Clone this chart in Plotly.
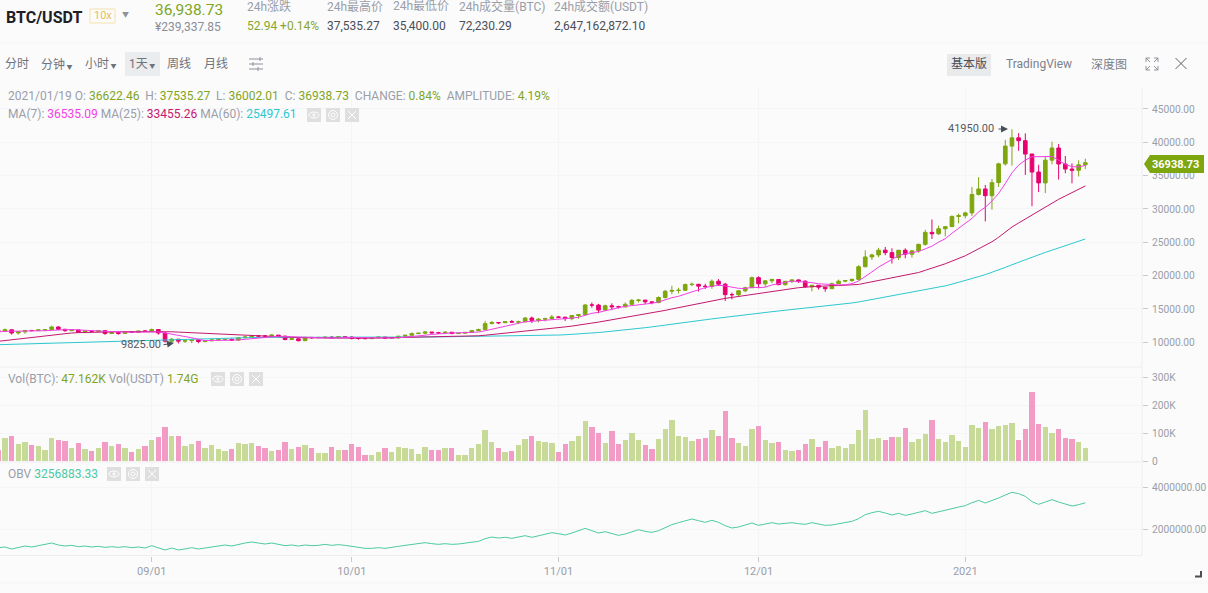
import pandas as pd
import plotly.graph_objects as go

WIDTH = 1208
HEIGHT = 593

UP = "#7ea60e"
DOWN = "#e8016f"
UP_VOL = "#c8da98"
DOWN_VOL = "#f29cc5"
GRAY = "#9a9ea8"
SANS = "Roboto, 'Noto Sans CJK SC', sans-serif"

opens = [
    11750, 11680, 11880, 11400, 11570, 11780, 11760, 11860, 11910, 12300, 11950, 11750, 11860, 11520, 11680, 11650, 11750, 11320, 11460, 11330, 11530, 11470, 11710,
    11650, 11920, 11390, 10170, 10470, 10170, 10250, 10370, 10120, 10220, 10340, 10390, 10440, 10330, 10680, 10790, 10950, 10940, 10930, 11080, 10920, 10420, 10530, 10240, 10740, 10690, 10730, 10770, 10690, 10840,
    10780, 10620, 10570, 10550, 10670, 10790, 10600, 10670, 10920, 11050, 11300, 11370, 11540, 11420, 11410, 11510, 11320, 11360, 11480, 11750, 11910, 12800, 12970, 12930, 13120, 13030, 13070, 13640, 13280, 13460, 13560,
    13800, 13760, 13550, 14020, 14150, 15590, 15580, 14830, 15480, 15330, 15300, 15700, 16290, 16330, 16070, 15960, 16720, 17660, 17780, 17800, 18660, 18700, 18420, 18370, 19160, 18720, 17150, 17140, 17720, 18180,
    19700, 18770, 19220, 19420, 18650, 19150, 19360, 19170, 18320, 18550, 18260, 18040, 18800, 19170, 19270, 19440, 21340, 22800, 23110, 23820, 23450, 22720, 23810, 23220, 23720, 24690, 26490, 26280, 27030, 27350, 28880,
    28990, 29410, 32180, 33000, 31990, 33950, 36770, 39430, 40670, 40240, 38240, 35540, 33910, 37320, 39140, 36740, 35990, 35800, 36622.46,
]
closes = [
    11680, 11880, 11400, 11570, 11780, 11760, 11860, 11910, 12300, 11950, 11750, 11860, 11520, 11680, 11650, 11750, 11320, 11460, 11330, 11530, 11470, 11710, 11650,
    11920, 11390, 10170, 10470, 10170, 10250, 10370, 10120, 10220, 10340, 10390, 10440, 10330, 10680, 10790, 10950, 10940, 10930, 11080, 10920, 10420, 10530, 10240, 10740, 10690, 10730, 10770, 10690, 10840, 10780,
    10620, 10570, 10550, 10670, 10790, 10600, 10670, 10920, 11050, 11300, 11370, 11540, 11420, 11410, 11510, 11320, 11360, 11480, 11750, 11910, 12800, 12970, 12930, 13120, 13030, 13070, 13640, 13280, 13460, 13560, 13800,
    13760, 13550, 14020, 14150, 15590, 15580, 14830, 15480, 15330, 15300, 15700, 16290, 16330, 16070, 15960, 16720, 17660, 17780, 17800, 18660, 18700, 18420, 18370, 19160, 18720, 17150, 17140, 17720, 18180, 19700,
    18770, 19220, 19420, 18650, 19150, 19360, 19170, 18320, 18550, 18260, 18040, 18800, 19170, 19270, 19440, 21340, 22800, 23110, 23820, 23450, 22720, 23810, 23220, 23720, 24690, 26490, 26280, 27030, 27350, 28880, 28990,
    29410, 32180, 33000, 31990, 33950, 36770, 39430, 40670, 40240, 38240, 35540, 33910, 37320, 39140, 36740, 35990, 35800, 36620, 36938.73,
]
highs = [
    11800, 12060, 11940, 11620, 11790, 11850, 11960, 11930, 12480, 12400, 12020, 11880, 11880, 11690, 11720, 11830, 11770, 11530, 11600, 11580, 11600, 11720, 11790,
    12070, 11950, 11460, 10640, 10490, 10330, 10410, 10440, 10350, 10500, 10410, 10480, 10580, 10760, 10940, 11100, 11040, 11040, 11180, 11050, 10990, 10570, 10540, 10790, 10760, 10780, 10800, 10950, 10860, 10850,
    10930, 10660, 10600, 10690, 10800, 10800, 10680, 10950, 11100, 11490, 11400, 11720, 11550, 11550, 11620, 11540, 11400, 11490, 11800, 12040, 13220, 13200, 13030, 13170, 13350, 13240, 13790, 13860, 13640, 13680, 14100,
    13900, 13830, 14070, 14260, 15750, 15970, 15770, 15650, 15850, 15480, 15970, 16500, 16480, 16350, 16180, 16880, 17860, 18480, 18180, 18800, 18970, 18760, 18770, 19420, 19480, 18920, 17460, 17850, 18340, 19860,
    19900, 19310, 19560, 19500, 19180, 19420, 19420, 19300, 18620, 18560, 18280, 18950, 19410, 19350, 19570, 21560, 23800, 23290, 24170, 24300, 24100, 23840, 24100, 23780, 24790, 26870, 28420, 27500, 27410, 29020, 29300,
    29600, 33300, 34780, 33600, 34500, 36940, 40370, 41950, 41380, 41350, 38260, 36630, 37850, 40100, 39750, 37950, 36850, 37300, 37535.27,
]
lows = [
    11570, 11530, 11150, 11160, 11280, 11630, 11680, 11690, 11780, 11820, 11560, 11670, 11480, 11370, 11520, 11590, 11120, 11260, 11130, 11280, 11420, 11460, 11590,
    11630, 11140, 9960, 9875, 9825, 9900, 9875, 9850, 10000, 10200, 10200, 10260, 10200, 10210, 10630, 10670, 10740, 10810, 10890, 10760, 10300, 10350, 10140, 10190, 10530, 10650, 10560, 10630, 10640, 10650,
    10440, 10380, 10520, 10530, 10630, 10520, 10560, 10530, 10830, 11040, 11280, 11180, 11300, 11280, 11260, 11200, 11280, 11330, 11400, 11680, 11900, 12720, 12730, 12900, 12890, 12800, 13060, 12900, 12990, 13130, 13420,
    13620, 13200, 13300, 13530, 14090, 15190, 14350, 14720, 14830, 15080, 15290, 15540, 15970, 15710, 15700, 15860, 16550, 17210, 17340, 17760, 18420, 17610, 18000, 18020, 18480, 16200, 16440, 16880, 17520, 18170,
    18100, 18330, 18870, 18570, 18500, 18860, 18900, 18200, 17650, 17910, 17570, 18020, 18710, 19000, 19050, 19280, 21230, 22350, 22750, 23060, 21810, 22350, 22600, 22700, 23430, 24500, 25500, 26100, 25880, 27320, 27850,
    28600, 28950, 32000, 28130, 29900, 33300, 36500, 36500, 38720, 35110, 30420, 32530, 32380, 36700, 34410, 35360, 33850, 34880, 36002.01,
]
# thousands of BTC
volumes = [
    40, 83, 90, 62, 68, 58, 55, 40, 83, 75, 73, 45, 63, 43, 36, 45, 68, 52, 62, 45, 32, 42, 55,
    76, 86, 120, 90, 88, 55, 62, 73, 48, 57, 43, 35, 43, 65, 61, 64, 55, 48, 37, 38, 69, 44, 51, 57, 48, 29, 30, 49, 40, 38,
    60, 50, 23, 22, 33, 48, 32, 51, 48, 42, 26, 50, 39, 39, 46, 46, 20, 20, 45, 60, 112, 68, 48, 33, 36, 58, 78, 91, 71, 69, 64,
    33, 62, 71, 90, 142, 120, 99, 64, 106, 61, 76, 99, 74, 57, 42, 79, 113, 146, 89, 86, 73, 80, 81, 111, 90, 177, 82, 63, 54, 113,
    125, 74, 64, 69, 40, 36, 39, 60, 77, 50, 70, 46, 54, 45, 60, 112, 182, 77, 83, 75, 86, 85, 117, 67, 77, 96, 145, 77, 68, 93, 73,
    51, 127, 118, 138, 113, 124, 130, 137, 74, 115, 245, 131, 121, 100, 115, 83, 77, 68, 47,
]
ma7 = [
    11570, 11650, 11680, 11670, 11670, 11680, 11690, 11737, 11797, 11876, 11901, 11913, 11879, 11853, 11816, 11737, 11647, 11606, 11530, 11531, 11501, 11510, 11496,
    11581, 11571, 11406, 11254, 11069, 10860, 10677, 10420, 10253, 10277, 10266, 10304, 10316, 10360, 10456, 10560, 10646, 10723, 10814, 10899, 10861, 10824, 10723, 10694, 10660, 10610, 10589, 10627, 10671, 10749,
    10731, 10714, 10689, 10674, 10689, 10654, 10639, 10681, 10750, 10857, 10957, 11064, 11181, 11287, 11371, 11410, 11419, 11434, 11464, 11534, 11733, 11941, 12171, 12423, 12644, 12833, 13080, 13149, 13219, 13309, 13406,
    13510, 13579, 13633, 13757, 14061, 14350, 14497, 14743, 14997, 15180, 15401, 15501, 15609, 15786, 15854, 16053, 16390, 16687, 16903, 17236, 17611, 17963, 18199, 18413, 18547, 18454, 18237, 18097, 18063, 18253,
    18197, 18269, 18593, 18809, 19013, 19181, 19106, 19041, 18946, 18780, 18693, 18643, 18616, 18630, 18790, 19189, 19837, 20561, 21279, 21890, 22383, 23007, 23276, 23407, 23633, 24014, 24419, 25034, 25540, 26349, 27101,
    27776, 28589, 29549, 30257, 31200, 32327, 33819, 35427, 36579, 37327, 37834, 37829, 37907, 37866, 37304, 36697, 36349, 36300, 36535.09,
]
ma25 = [
    10150, 10270, 10390, 10510, 10640, 10760, 10880, 11000, 11110, 11230, 11320, 11400, 11450, 11490, 11520, 11540, 11550, 11570, 11580, 11600, 11610, 11620, 11640,
    11650, 11660, 11620, 11580, 11530, 11480, 11430, 11380, 11330, 11280, 11220, 11170, 11110, 11060, 11010, 10960, 10920, 10880, 10840, 10800, 10770, 10740, 10710, 10680, 10660, 10640, 10630, 10620, 10610, 10600,
    10580, 10590, 10610, 10630, 10650, 10660, 10670, 10690, 10720, 10750, 10770, 10790, 10810, 10830, 10850, 10870, 10880, 10900, 10930, 10980, 11060, 11160, 11240, 11340, 11430, 11520, 11620, 11730, 11840, 11960, 12080,
    12200, 12310, 12430, 12550, 12720, 12880, 13030, 13200, 13360, 13520, 13690, 13880, 14060, 14230, 14390, 14580, 14790, 15000, 15200, 15420, 15640, 15850, 16050, 16260, 16450, 16590, 16730, 16880, 17040, 17250,
    17380, 17540, 17690, 17810, 17950, 18080, 18190, 18280, 18360, 18420, 18470, 18500, 18510, 18530, 18590, 18680, 18880, 19070, 19290, 19470, 19650, 19880, 20040, 20230, 20470, 20800, 21100, 21420, 21780, 22180, 22560,
    22980, 23500, 24030, 24510, 25080, 25750, 26500, 27290, 27900, 28500, 29100, 29650, 30200, 30850, 31450, 31950, 32450, 32950, 33455.26,
]
ma60 = [
    9640, 9670, 9700, 9730, 9760, 9790, 9820, 9850, 9880, 9910, 9940, 9970, 10000, 10030, 10060, 10090, 10120, 10150, 10180, 10220, 10260, 10300, 10340,
    10370, 10400, 10420, 10440, 10460, 10480, 10500, 10520, 10540, 10560, 10580, 10610, 10630, 10660, 10690, 10710, 10730, 10740, 10750, 10760, 10760, 10770, 10770, 10780, 10780, 10790, 10790, 10800, 10800, 10800,
    10790, 10790, 10790, 10780, 10780, 10770, 10770, 10760, 10760, 10770, 10780, 10790, 10800, 10810, 10820, 10830, 10840, 10850, 10860, 10880, 10900, 10920, 10940, 10960, 10980, 11000, 11020, 11040, 11050, 11060, 11070,
    11090, 11130, 11180, 11240, 11310, 11390, 11470, 11560, 11650, 11750, 11850, 11960, 12070, 12190, 12310, 12430, 12560, 12690, 12830, 12960, 13100, 13240, 13380, 13510, 13640, 13770, 13880, 13990, 14090, 14220,
    14350, 14470, 14590, 14700, 14810, 14920, 15030, 15130, 15230, 15320, 15410, 15510, 15600, 15700, 15900, 16050, 16230, 16410, 16590, 16770, 16940, 17120, 17290, 17460, 17640, 17840, 18040, 18260, 18470, 18720, 18980,
    19240, 19540, 19850, 20150, 20480, 20840, 21230, 21630, 22030, 22420, 22790, 23120, 23480, 23820, 24150, 24480, 24800, 25150, 25497.61,
]
# thousands
obv = [
    1145, 1176, 1082, 1160, 1223, 1176, 1239, 1286, 1364, 1270, 1223, 1254, 1192, 1223, 1176, 1207, 1160, 1192, 1160, 1192, 1145, 1176, 1129,
    1239, 1145, 1035, 1129, 1035, 1082, 1145, 1082, 1129, 1192, 1239, 1270, 1223, 1301, 1364, 1411, 1364, 1317, 1364, 1286, 1239, 1270, 1223, 1270, 1239, 1254, 1301, 1254, 1286, 1254,
    1207, 1145, 1113, 1113, 1145, 1113, 1145, 1207, 1254, 1301, 1333, 1380, 1333, 1301, 1333, 1301, 1317, 1348, 1380, 1442, 1568, 1646, 1599, 1631, 1584, 1646, 1709, 1631, 1693, 1756, 1850,
    1803, 1741, 1834, 1944, 2054, 1944, 1834, 1897, 1803, 1725, 1787, 1897, 1991, 1913, 1866, 1944, 2086, 2227, 2321, 2415, 2493, 2415, 2336, 2431, 2336, 2180, 2070, 2117, 2195, 2305,
    2195, 2258, 2321, 2258, 2290, 2321, 2274, 2243, 2321, 2274, 2196, 2212, 2274, 2321, 2384, 2510, 2698, 2792, 2855, 2776, 2682, 2761, 2666, 2729, 2808, 2886, 2761, 2823, 2886, 2980, 3059,
    3121, 3262, 3372, 3247, 3357, 3482, 3623, 3749, 3686, 3561, 3310, 3184, 3294, 3404, 3294, 3184, 3106, 3169, 3256.88,
]

month_ticks = ["2020-09-01", "2020-10-01", "2020-11-01", "2020-12-01", "2021-01-01"]
month_labels = ["09/01", "10/01", "11/01", "12/01", "2021"]
price_ticks = [10000, 15000, 20000, 25000, 30000, 35000, 40000, 45000]
vol_ticks = [0, 100, 200, 300]
vol_labels = ["0", "100K", "200K", "300K"]
obv_ticks = [2000, 4000]
obv_labels = ["2000000.00", "4000000.00"]

# one (label, value, x, colour) row per column of the top bar
header_columns = [
    ("24h涨跌", "52.94 +0.14%", 247, "#87a62d"),
    ("24h最高价", "37,535.27", 327, "#4a4e57"),
    ("24h最低价", "35,400.00", 393, "#4a4e57"),
    ("24h成交量(BTC)", "72,230.29", 459, "#4a4e57"),
    ("24h成交额(USDT)", "2,647,162,872.10", 554, "#4a4e57"),
]
SMALL_ARROW = '<span style="font-size:6px"> ▼</span>'
toolbar_left = [
    ("分时", 5), ("分钟" + SMALL_ARROW, 41), ("小时" + SMALL_ARROW, 85),
    ("1天" + SMALL_ARROW, 129), ("周线", 167), ("月线", 204),
]
toolbar_right = [("基本版", 951), ("TradingView", 1006), ("深度图", 1091)]

dates = pd.date_range("2020-08-09", periods=len(closes))
for series in (opens, highs, lows, volumes, ma7, ma25, ma60, obv):
    assert len(series) == len(closes), len(series)


def _domain(top, bottom):
    return [1 - bottom / HEIGHT, 1 - top / HEIGHT]


def _px(x, y):
    return x / WIDTH, 1 - y / HEIGHT


def _label(text, x, y, size=12, color=GRAY, anchor="left", family=SANS):
    # annotations sit about a pixel right of the anchor, so pull left aligned ones back
    px, py = _px(x - 1 if anchor == "left" else x, y)
    return dict(
        text=text, x=px, y=py, xref="paper", yref="paper", xanchor=anchor, yanchor="middle",
        showarrow=False, borderpad=0, font=dict(size=size, color=color, family=family),
    )


def _rect(x0, y0, x1, y1, fill, line="rgba(0,0,0,0)", layer="below"):
    ax, ay = _px(x0, y0)
    bx, by = _px(x1, y1)
    return dict(type="rect", xref="paper", yref="paper", x0=ax, y0=ay, x1=bx, y1=by,
                fillcolor=fill, line=dict(color=line, width=1), layer=layer)


def _line(x0, y0, x1, y1, color, width=1, layer="above"):
    ax, ay = _px(x0, y0)
    bx, by = _px(x1, y1)
    return dict(type="line", xref="paper", yref="paper", x0=ax, y0=ay, x1=bx, y1=by,
                line=dict(color=color, width=width), layer=layer)


def _circle(cx, cy, rx, ry, color):
    ax, ay = _px(cx - rx, cy - ry)
    bx, by = _px(cx + rx, cy + ry)
    return dict(type="circle", xref="paper", yref="paper", x0=ax, y0=ay, x1=bx, y1=by,
                line=dict(color=color, width=1), fillcolor="rgba(0,0,0,0)", layer="above")


def _polygon(points, fill, line=None, width=1):
    coords = [_px(x, y) for x, y in points]
    path = "M " + " L ".join(f"{x:.5f},{y:.5f}" for x, y in coords)
    if fill:
        path += " Z"
    return dict(type="path", xref="paper", yref="paper", path=path, fillcolor=fill or "rgba(0,0,0,0)",
                line=dict(color=line or "rgba(0,0,0,0)", width=width), layer="above")


def _icon_group(x_first, top, step):
    # eye, target and close buttons next to each indicator legend
    shapes = []
    for i in range(3):
        x = x_first + i * step
        cx, cy = x + 7, top + 7
        shapes.append(_rect(x, top, x + 14, top + 14, "#dfdfe0", layer="above"))
        if i == 0:
            shapes.append(_circle(cx, cy, 5, 3, "white"))
            shapes.append(_circle(cx, cy, 1.2, 1.2, "white"))
        elif i == 1:
            shapes.append(_circle(cx, cy, 4.5, 4.5, "white"))
            shapes.append(_circle(cx, cy, 2, 2, "white"))
        else:
            shapes.append(_line(x + 3, top + 3, x + 11, top + 11, "white"))
            shapes.append(_line(x + 11, top + 3, x + 3, top + 11, "white"))
    return shapes


def _colored(parts, sep=" "):
    return sep.join(
        f'<span style="color:{GRAY}">{name}</span> <span style="color:{color}">{value}</span>'
        for name, value, color in parts
    )


def _traces():
    vol_colors = [UP_VOL if c >= o else DOWN_VOL for o, c in zip(opens, closes)]
    return [
        go.Candlestick(
            x=dates, open=opens, high=highs, low=lows, close=closes, whiskerwidth=0,
            increasing=dict(line=dict(color=UP, width=1), fillcolor=UP),
            decreasing=dict(line=dict(color=DOWN, width=1), fillcolor=DOWN),
            xaxis="x", yaxis="y", hoverinfo="skip",
        ),
        go.Scatter(x=dates, y=ma60, mode="lines", line=dict(color="#2cc8cf", width=1), xaxis="x", yaxis="y"),
        go.Scatter(x=dates, y=ma25, mode="lines", line=dict(color="#c4186f", width=1), xaxis="x", yaxis="y"),
        go.Scatter(x=dates, y=ma7, mode="lines", line=dict(color="#f43fe4", width=1), xaxis="x", yaxis="y"),
        go.Bar(x=dates, y=volumes, width=0.8 * 86400000, marker=dict(color=vol_colors, line=dict(width=0)),
               xaxis="x2", yaxis="y2"),
        go.Scatter(x=dates, y=obv, mode="lines", line=dict(color="#4ccaa2", width=1), xaxis="x3", yaxis="y3"),
    ]


def _annotations():
    green = "#82a51f"
    notes = [
        _label("<b>BTC/USDT</b>", 6, 17, size=16, color="#1e2026"),
        _label("10x", 102.5, 16, size=11, color="#e8bd52", anchor="center"),
        _label("▼", 125, 15, size=7, color="#8d9199", anchor="center"),
        _label("36,938.73", 155, 10, size=15.5, color="#7ea621"),
        _label("¥239,337.85", 155, 27, size=12, color="#8a8e97"),
    ]
    for title, value, x, color in header_columns:
        notes.append(_label(title, x, 6))
        notes.append(_label(value, x, 26, color=color))
    for text, x in toolbar_left:
        notes.append(_label(text, x, 64, color="#6f737c"))
    for text, x in toolbar_right:
        notes.append(_label(text, x, 64, color="#4a4e57" if text == "基本版" else "#7c808a"))

    notes.append(_label(
        "2021/01/19 " + _colored([
            ("O:", "36622.46", green), ("H:", "37535.27", green), ("L:", "36002.01", green),
            ("C:", "36938.73", green), ("CHANGE:", "0.84%", green), ("AMPLITUDE:", "4.19%", green),
        ], sep="  "), 8, 96,
    ))
    notes.append(_label(_colored([
        ("MA(7):", "36535.09", "#f43fe4"), ("MA(25):", "33455.26", "#c4186f"), ("MA(60):", "25497.61", "#2cc8cf"),
    ]), 8, 114))
    notes.append(_label(_colored([("Vol(BTC):", "47.162K", green), ("Vol(USDT)", "1.74G", green)]), 8, 379))
    notes.append(_label(_colored([("OBV", "3256883.33", "#4ccaa2")]), 8, 474))

    notes.append(_label("41950.00", 948, 129, size=11, color="#55585f"))
    notes.append(_label("9825.00", 121, 344, size=11, color="#55585f"))
    notes.append(_label("<b>36938.73</b>", 1152, 164, size=11, color="white"))

    for tail, head in [((997, 129), (1008, 129)), ((162, 345), (174, 343))]:
        hx, hy = _px(*head)
        notes.append(dict(
            x=hx, y=hy, xref="paper", yref="paper", ax=tail[0] - head[0], ay=tail[1] - head[1],
            axref="pixel", ayref="pixel", showarrow=True, arrowhead=2, arrowsize=1.4, arrowwidth=1,
            arrowcolor="#4a4e57", text="",
        ))
    return notes


def _shapes():
    edge = "#eeeef0"
    shapes = [
        _rect(0, 41, WIDTH, 44, "#f8f8f9"),
        _rect(0, 581, WIDTH, 584, "#f8f8f9"),
        _rect(125, 52, 160, 76, "#ebecee"),
        _rect(947, 54, 991, 76, "#e9eaec"),
        _rect(90, 9, 115, 23, "rgba(0,0,0,0)", line="#f5e1ad"),
        _line(0, 367, 1142, 367, edge),
        _line(0, 462, 1142, 462, edge),
        _line(0, 555.5, 1142, 555.5, edge),
        _line(1142, 88, 1142, 555.5, edge),
    ]
    # settings icon
    for y, mark in [(59, 260), (64, 253), (69, 258)]:
        shapes.append(_line(249, y, 263, y, "#8d9199"))
        shapes.append(_line(mark, y - 2, mark, y + 2, "#8d9199"))
    # expand icon
    for sx, sy in [(-1, -1), (1, -1), (-1, 1), (1, 1)]:
        cx, cy = 1152 + sx * 6, 64 + sy * 6
        shapes.append(_polygon([(cx - sx * 4, cy), (cx, cy), (cx, cy - sy * 4)], None, "#8d9199"))
        shapes.append(_line(cx - sx * 4, cy - sy * 4, cx, cy, "#8d9199"))
    shapes.append(_line(1175.5, 58, 1186.5, 69, "#5c606a"))
    shapes.append(_line(1186.5, 58, 1175.5, 69, "#5c606a"))
    # window resize corner
    shapes.append(_polygon([(1195, 576.5), (1201, 576.5), (1201, 571)], None, "#4a4e57", width=2))
    # last price tag
    shapes.append(_polygon([(1144, 164), (1150, 155), (1204, 155), (1204, 173), (1150, 173)], "#7ea60e"))
    shapes += _icon_group(307, 108, 19)
    shapes += _icon_group(211, 372, 19)
    shapes += _icon_group(107, 467, 19)
    return shapes


def _x_axis(anchor, show_labels):
    return dict(
        type="date", domain=[0, 1142 / WIDTH], range=["2020-08-09 06:00", "2021-01-27 12:00"], anchor=anchor,
        tickmode="array", tickvals=month_ticks, ticktext=month_labels, showticklabels=show_labels,
        ticks="outside" if show_labels else "", ticklen=5, tickcolor="#c8c9cd",
        gridcolor="#f5f5f7", gridwidth=1, zeroline=False, showline=False, rangeslider=dict(visible=False),
        tickfont=dict(size=11, color=GRAY, family=SANS),
    )


def _y_axis(anchor, top, bottom, value_range, tickvals, ticktext=None, tickformat=None):
    axis = dict(
        domain=_domain(top, bottom), range=value_range, anchor=anchor, side="right",
        tickmode="array", tickvals=tickvals, ticks="outside", ticklen=5, tickcolor="#c8c9cd",
        gridcolor="#f5f5f7", gridwidth=1, zeroline=False, showline=False, ticklabelstandoff=2,
        tickfont=dict(size=10.2, color=GRAY, family=SANS),
    )
    if ticktext:
        axis["ticktext"] = ticktext
    if tickformat:
        axis["tickformat"] = tickformat
    return axis


fig = go.Figure(data=_traces())
fig.update_layout(
    width=WIDTH, height=HEIGHT, autosize=False, margin=dict(l=0, r=0, t=0, b=0, autoexpand=False),
    paper_bgcolor="#fbfbfc", plot_bgcolor="#fbfbfc", showlegend=False, hovermode=False,
    font=dict(family=SANS), bargap=0, boxgap=0.22,
    xaxis=_x_axis("y", False), xaxis2=_x_axis("y2", False), xaxis3=_x_axis("y3", True),
    yaxis=_y_axis("x", 88, 367, [6295, 48145], price_ticks, tickformat=".2f"),
    yaxis2=_y_axis("x2", 367, 461, [0, 335.7], vol_ticks, ticktext=vol_labels),
    yaxis3=_y_axis("x3", 462, 555.5, [776.5, 5176.5], obv_ticks, ticktext=obv_labels),
    shapes=_shapes(), annotations=_annotations(),
)

fig.write_html(
    "out.html",
    config=dict(displayModeBar=False),
    post_script="document.body.style.margin='0';document.body.style.overflow='hidden';",
)
